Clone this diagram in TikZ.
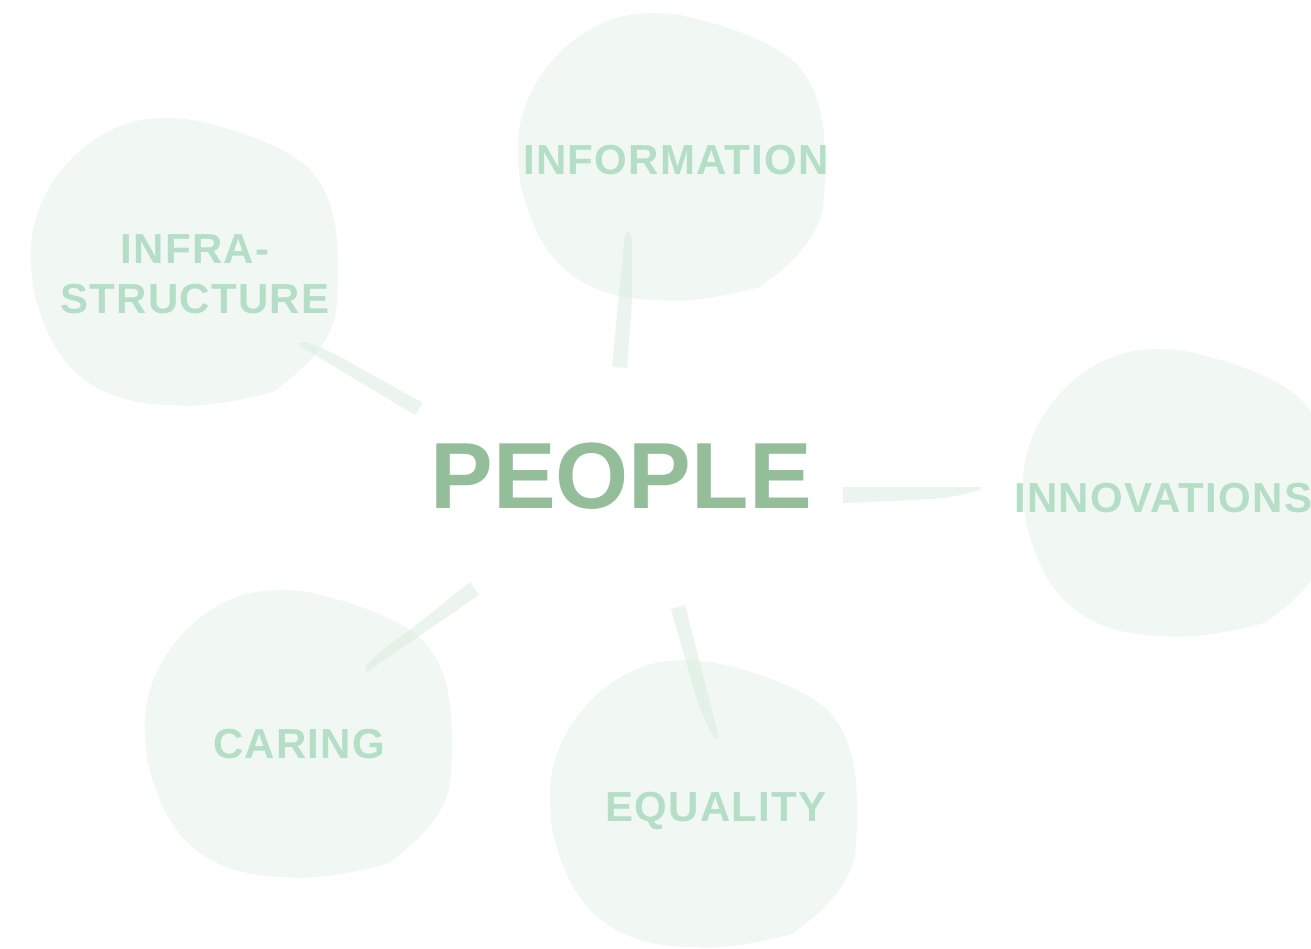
\documentclass[tikz,border=0pt]{standalone}
\usepackage{fontspec}
\setmainfont{Liberation Sans}
\definecolor{blobfill}{RGB}{241,248,243}
\definecolor{linkfill}{RGB}{215,235,221}
\definecolor{labelcol}{RGB}{180,223,198}
\definecolor{maincol}{RGB}{147,190,153}
\tikzset{
  blobshape/.style={fill=blobfill, draw=none},
  linkshape/.style={fill=linkfill, fill opacity=0.5, draw=none},
  labeltext/.style={text=labelcol, font=\bfseries\fontsize{42}{50}\selectfont\addfontfeatures{LetterSpace=3}, inner sep=0pt, anchor=base},
  maintext/.style={text=maincol, font=\bfseries\fontsize{94}{100}\selectfont, inner sep=0pt, anchor=base}
}
\newcommand{\myblob}[1]{%
  \fill[blobshape, shift={#1}] (-122,140)
    .. controls (-125,80) and (-80,25) .. (-30,7)
    .. controls (-10,-1) and (20,-1) .. (40,2)
    .. controls (80,10) and (140,30) .. (160,55)
    .. controls (180,80) and (185,110) .. (185,150)
    .. controls (185,175) and (184,190) .. (182,200)
    .. controls (172,232) and (150,252) .. (120,274)
    .. controls (90,282) and (50,290) .. (20,287)
    .. controls (-45,287) and (-85,260) .. (-105,215)
    .. controls (-118,185) and (-122,165) .. (-122,140) -- cycle;}
\begin{document}
\begin{tikzpicture}[x=1pt,y=-1pt]
\useasboundingbox (0,0) rectangle (1311,948);
% blobs
\myblob{(640,13)}
\myblob{(153,118)}
\myblob{(1145,349)}
\myblob{(267,590)}
\myblob{(672,660)}
% connectors
\fill[linkshape] (625,233) -- (629,232) .. controls (632,236) and (632,240) .. (632,250) -- (632,300) -- (627,368) -- (612,367) -- cycle;
\fill[linkshape] (298,343) -- (306,342) .. controls (330,350) and (350,362) .. (360,368) -- (423,403) -- (415,415) -- (300,346) -- cycle;
\fill[linkshape] (843,487) -- (982,487) .. controls (978,492) and (970,493) .. (945,498) .. controls (920,500) and (890,501) .. (843,503) -- cycle;
\fill[linkshape] (470,582) -- (479,595) -- (367,672) -- (365,667) .. controls (375,655) and (395,640) .. (410,630) -- cycle;
\fill[linkshape] (671,609) -- (685,605) -- (719,738) -- (714,738) .. controls (705,720) and (700,710) .. (697,700) -- cycle;
% labels
\node[labeltext] (info) at (676,174) {INFORMATION};
\node[labeltext] (infra1) at (195,263) {INFRA-};
\node[labeltext] (infra2) at (195,313) {STRUCTURE};
\node[labeltext, anchor=base west] (innov) at (1014,512) {INNOVATIONS};
\node[labeltext] (caring) at (299,758) {CARING};
\node[labeltext] (equal) at (716,821) {EQUALITY};
\node[maintext] (people) at (621,508) {PEOPLE};
\end{tikzpicture}
\end{document}
